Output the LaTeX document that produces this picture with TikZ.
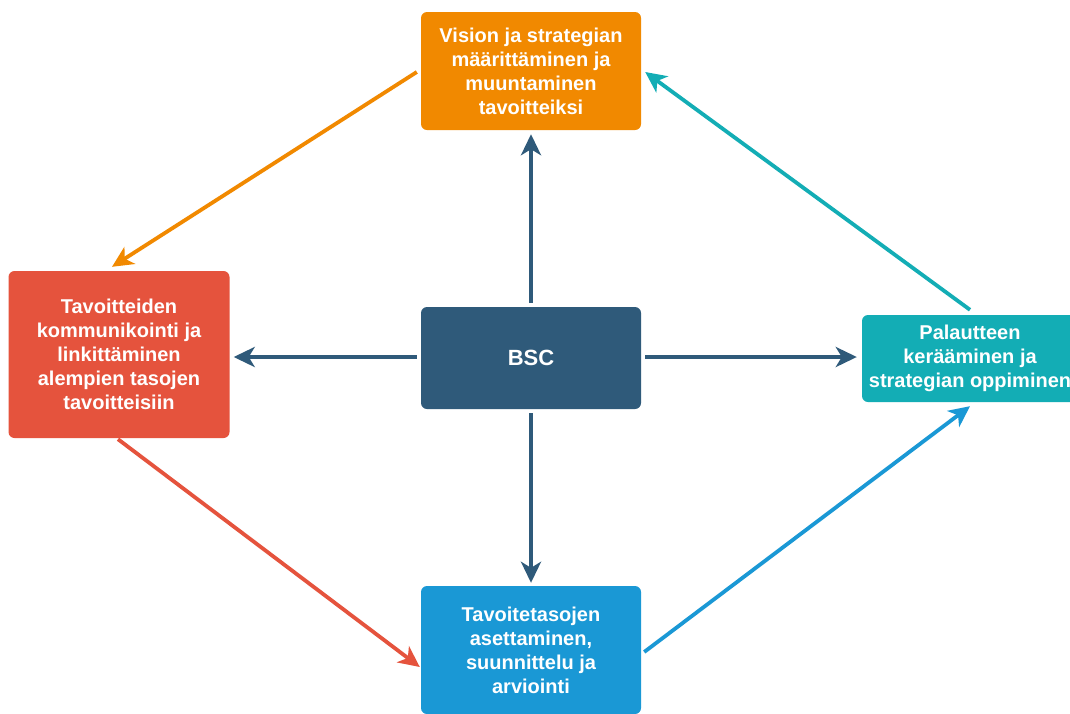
\documentclass[tikz,border=0pt]{standalone}
\usepackage{fontspec}
\setmainfont{Liberation Sans}
\usetikzlibrary{arrows.meta}
\definecolor{cOrange}{RGB}{241,137,0}
\definecolor{cRed}{RGB}{229,83,61}
\definecolor{cTeal}{RGB}{19,173,181}
\definecolor{cBlue}{RGB}{26,152,213}
\definecolor{cDark}{RGB}{47,90,122}
\tikzset{
  box/.style={rounded corners=6pt, inner sep=0pt, align=center, text=white,
    font=\bfseries\fontsize{20}{24}\selectfont},
  link/.style={line width=3.8pt, -{Stealth[length=21pt,width=20pt,inset=6pt]}},
}
\begin{document}
\begin{tikzpicture}[x=1pt,y=-1pt]
  \useasboundingbox (0,0) rectangle (1070,713);
  \clip (0,0) rectangle (1070,713);
  \fill[white] (0,0) rectangle (1070,713);

  % boxes
  \node[box, fill=cOrange, minimum width=220pt, minimum height=118pt] (vision) at (531,71)
    {Vision ja strategian\\määrittäminen ja\\muuntaminen\\tavoitteiksi};
  \node[box, fill=cRed, minimum width=221pt, minimum height=167pt] (komm) at (119,354.5)
    {Tavoitteiden\\kommunikointi ja\\linkittäminen\\alempien tasojen\\tavoitteisiin};
  \node[box, fill=cTeal, minimum width=216pt, minimum height=87pt] (pal) at (970,358.5)
    {Palautteen\\kerääminen ja\\strategian oppiminen};
  \node[box, fill=cBlue, minimum width=220pt, minimum height=128pt] (tav) at (531,650)
    {Tavoitetasojen\\asettaminen,\\suunnittelu ja\\arviointi};
  \node[box, fill=cDark, minimum width=220pt, minimum height=102pt,
    font=\bfseries\fontsize{22}{26}\selectfont] (bsc) at (531,358) {BSC};

  % cycle
  \draw[link, color=cOrange] ([shift={(-4,1)}]vision.west) -- ([shift={(-7,-4)}]komm.north);
  \draw[link, color=cRed] ([shift={(-1,1)}]komm.south) -- ([shift={(-1,17)}]tav.west);
  \draw[link, color=cBlue] ([shift={(3,2)}]tav.east) -- ([shift={(0,4)}]pal.south);
  \draw[link, color=cTeal] ([shift={(0,-5)}]pal.north) -- ([shift={(4,1)}]vision.east);

  % spokes from the centre
  \draw[link, color=cDark] ([shift={(0,-4)}]bsc.north) -- ([shift={(0,4)}]vision.south);
  \draw[link, color=cDark] ([shift={(-4,-1)}]bsc.west) -- ([shift={(4,2.5)}]komm.east);
  \draw[link, color=cDark] ([shift={(4,-1)}]bsc.east) -- ([shift={(-5,-1.5)}]pal.west);
  \draw[link, color=cDark] ([shift={(0,4)}]bsc.south) -- ([shift={(0,-3)}]tav.north);
\end{tikzpicture}
\end{document}
